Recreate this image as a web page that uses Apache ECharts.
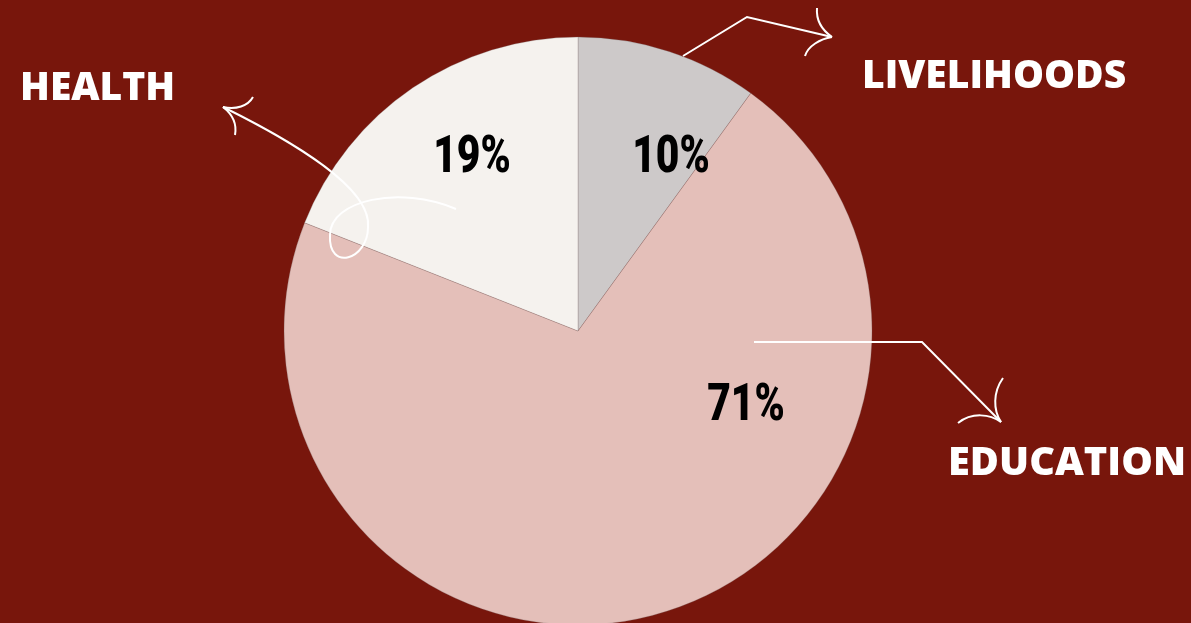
<!DOCTYPE html>
<html>
<head>
<meta charset="utf-8">
<script src="https://cdn.jsdelivr.net/npm/echarts@6/dist/echarts.min.js"></script>
<style>
html,body{margin:0;padding:0;background:#78160c;}
#chart{width:1191px;height:623px;}
</style>
</head>
<body>
<div id="chart"></div>
<script>
// Data
var categories = ['LIVELIHOODS', 'EDUCATION', 'HEALTH'];
var values = [10, 71, 19];
var sliceColors = ['#cdc9c9', '#e4bfb9', '#f5f2ee'];
// percentage label centres (layout)
var pctPos = [[671, 159], [746, 407], [472, 159]];
// category caption placement
var captionPos = [[862, 77], [948, 464], [20, 89]];

var chart = echarts.init(document.getElementById('chart'), null, {renderer: 'canvas'});

var seriesData = categories.map(function (c, i) {
  return {name: c, value: values[i], itemStyle: {color: sliceColors[i]}};
});

var white = '#ffffff';
function bez(p) {
  return {
    type: 'bezierCurve', silent: true, z: 100,
    shape: {x1: p[0], y1: p[1], cpx1: p[2], cpy1: p[3], cpx2: p[4], cpy2: p[5], x2: p[6], y2: p[7]},
    style: {stroke: white, lineWidth: 2, fill: null}
  };
}
function pl(pts) {
  return {
    type: 'polyline', silent: true, z: 100,
    shape: {points: pts},
    style: {stroke: white, lineWidth: 2, fill: null}
  };
}

var captions = categories.map(function (c, i) {
  return {
    type: 'text', silent: true, z: 100,
    x: captionPos[i][0], y: captionPos[i][1],
    scaleX: i === 1 ? 1.02 : 1,
    style: {
      text: c, fill: white,
      font: '800 39px "Open Sans", sans-serif',
      textAlign: 'left', textVerticalAlign: 'middle'
    }
  };
});

var pctLabels = values.map(function (v, i) {
  return {
    type: 'text', silent: true, z: 90,
    x: pctPos[i][0], y: pctPos[i][1],
    scaleX: 0.8,
    style: {
      text: v + '%', fill: '#000000',
      font: '900 51px Roboto, "Noto Sans", sans-serif',
      textAlign: 'center', textVerticalAlign: 'middle'
    }
  };
});

var arrows = [
  // livelihoods
  pl([[683, 56], [747, 17], [832, 37]]),
  bez([832, 37, 822, 30, 816, 20, 817, 8]),
  bez([832, 37, 820, 39, 808, 46, 805, 56]),
  // education
  pl([[754, 342], [922, 342], [1001, 422]]),
  bez([1001, 422, 993, 410, 993, 392, 1003, 378]),
  bez([1001, 422, 990, 414, 972, 412, 958, 423]),
  // health
  bez([223, 107, 290, 140, 372, 188, 368, 227]),
  bez([368, 227, 368, 260, 328, 272, 330, 235]),
  bez([330, 235, 330, 200, 400, 185, 456, 209]),
  bez([223, 107, 236, 110, 248, 106, 253, 97]),
  bez([223, 107, 232, 114, 237, 124, 235, 135])
];

chart.setOption({
  backgroundColor: '#78160c',
  animation: false,
  series: [{
    type: 'pie',
    center: [578, 331],
    radius: [0, 294],
    startAngle: 90,
    clockwise: true,
    avoidLabelOverlap: false,
    itemStyle: {borderColor: 'rgba(120,100,100,0.45)', borderWidth: 0.6},
    label: {show: false},
    labelLine: {show: false},
    emphasis: {disabled: true},
    data: seriesData
  }],
  graphic: {elements: captions.concat(pctLabels, arrows)}
});
</script>
</body>
</html>
